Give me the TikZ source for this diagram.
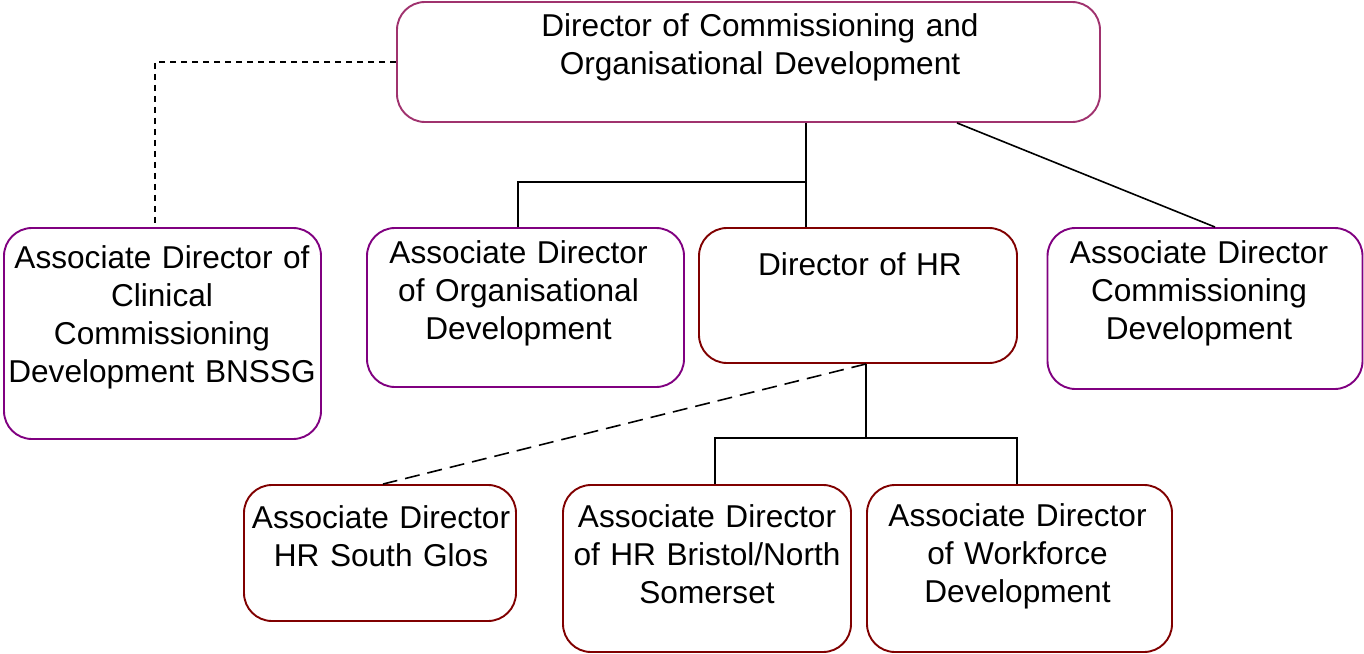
\documentclass[tikz,border=0pt]{standalone}
\usepackage{fontspec}
\setmainfont{Liberation Sans}
\definecolor{topc}{RGB}{160,50,110}
\definecolor{purp}{RGB}{128,0,128}
\definecolor{hrred}{RGB}{128,0,0}
\begin{document}
\begin{tikzpicture}[x=1pt,y=-1pt,
  box/.style={draw=#1,line width=1.9pt,rounded corners=28pt,inner sep=0pt,fill=white},
  txt/.style={inner sep=0pt,align=center,font=\fontsize{31.6}{38}\selectfont,anchor=base,text width=#1},
  txt/.default=330pt,
  conn/.style={line width=1.6pt,black},
  shortdash/.style={conn,dash pattern=on 6pt off 5pt},
  longdash/.style={conn,dash pattern=on 15pt off 8pt}]
\useasboundingbox (0,0) rectangle (1364,653);
% boxes
\node[box=topc,minimum width=703pt,minimum height=120pt] (top) at (748.5,62) {};
\node[box=purp,minimum width=317pt,minimum height=211pt] (clin) at (162.5,333.5) {};
\node[box=purp,minimum width=317pt,minimum height=159pt] (orgdev) at (525.5,307.5) {};
\node[box=hrred,minimum width=318pt,minimum height=135pt] (hr) at (858,295.5) {};
\node[box=purp,minimum width=315pt,minimum height=161pt] (comm) at (1205,308.5) {};
\node[box=hrred,minimum width=272pt,minimum height=136pt] (glos) at (380,553) {};
\node[box=hrred,minimum width=288pt,minimum height=167pt] (bristol) at (707,568.5) {};
\node[box=hrred,minimum width=305pt,minimum height=167pt] (work) at (1019.5,568.5) {};
% texts
\node[txt=600pt] (top-t) at (760,36) {Director of Commissioning and\\Organisational Development};
\node[txt] (clin-t) at (162,268) {Associate Director of\\Clinical\\Commissioning\\Development BNSSG};
\node[txt] (orgdev-t) at (518.5,263) {Associate Director\\of Organisational\\Development};
\node[txt] (hr-t) at (860,275) {Director of HR};
\node[txt] (comm-t) at (1199,263) {Associate Director\\Commissioning\\Development};
\node[txt] (glos-t) at (381,528) {Associate Director\\HR South Glos};
\node[txt] (bristol-t) at (707,527) {Associate Director\\of HR Bristol/North\\Somerset};
\node[txt] (work-t) at (1017.5,526) {Associate Director\\of Workforce\\Development};
% junctions
\coordinate (j1) at (806,182);
\coordinate (j2) at (866,438);
% connectors
\draw[shortdash] (top.west) -| ([xshift=-7.5pt]clin.north);
\draw[conn] (top.south -| j1) -- (j1) -- (hr.north -| j1);
\draw[conn] (j1) -| ([xshift=-7.5pt]orgdev.north);
\draw[conn] ([xshift=208.5pt]top.south) -- ([xshift=10pt]comm.north);
\draw[conn] ([xshift=8pt]hr.south) -- (j2);
\draw[conn] ([xshift=8pt]bristol.north) |- (j2) -| ([xshift=-2.5pt]work.north);
\draw[longdash] ([xshift=8pt]hr.south) -- ([xshift=3pt]glos.north);
\end{tikzpicture}
\end{document}
